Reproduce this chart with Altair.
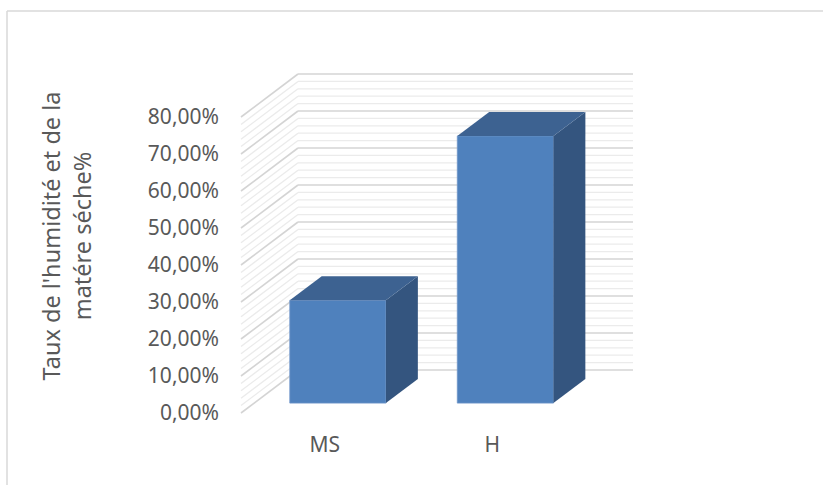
import altair as alt
import pandas as pd

# --- data -------------------------------------------------------------
categories = ["MS", "H"]
taux = [27.8, 72.2]  # percent

tick_values = [0, 10, 20, 30, 40, 50, 60, 70, 80]
tick_labels = ["0,00%", "10,00%", "20,00%", "30,00%", "40,00%",
               "50,00%", "60,00%", "70,00%", "80,00%"]
minor_step = 2

axis_title = "Taux de l'humidité et de la\nmatére séche%"

# --- oblique 3D projection settings (x in category slots, y in percent) ---
W, H = 816, 474            # plot area in px
SLOT_PX, PCT_PX = 167.5, 3.7
ORIGIN_X, ORIGIN_Y = 234, 402   # px of (slot 0, 0%) on the front plane
DEPTH_X = 57 / SLOT_PX      # full-depth shift in slot units
DEPTH_Y = 43 / PCT_PX       # full-depth shift in percent units
BAR_D0, BAR_D1 = 0.23, 0.79 # bar depth span (fraction of the box depth)
HALF_W = 0.287              # bar half-width in slot units

x_dom = [-ORIGIN_X / SLOT_PX, (W - ORIGIN_X) / SLOT_PX]
y_dom = [(ORIGIN_Y - H) / PCT_PX, ORIGIN_Y / PCT_PX]
xs = alt.Scale(domain=x_dom, nice=False, zero=False)
ys = alt.Scale(domain=y_dom, nice=False, zero=False)

FONT = "Noto Sans"
GREY_TXT = "#595959"
n_cat = len(categories)


def X(field):
    return alt.X(field, type="quantitative", scale=xs, axis=None)


def Y(field):
    return alt.Y(field, type="quantitative", scale=ys, axis=None)


# --- gridlines: back wall + left side wall ------------------------------
grid_rows = []
for v in range(0, tick_values[-1] + 1, minor_step):
    grid_rows.append({
        "v": v,
        "major": int(v % 10 == 0),
        "y_back": v + DEPTH_Y,
        "x_front": 0.0,
        "x_back": DEPTH_X,
        "x_back_end": n_cat + DEPTH_X,
    })
grid = pd.DataFrame(grid_rows)


def grid_layers(major):
    data = grid[grid["major"] == major]
    color = "#d4d4d4" if major else "#ebebeb"
    width = 1.6 if major else 1.3
    back = alt.Chart(data).mark_rule(color=color, strokeWidth=width).encode(
        x=X("x_back"), x2="x_back_end:Q", y=Y("y_back"),
    )
    side = alt.Chart(data).mark_rule(color=color, strokeWidth=width).encode(
        x=X("x_front"), x2="x_back:Q", y=Y("v"), y2="y_back:Q",
    )
    return [back, side]


# --- bars: front, right side and top faces --------------------------------
front_rows, side_rows, top_rows = [], [], []
for i, (cat, val) in enumerate(zip(categories, taux)):
    c = i + 0.5
    front_rows.append({
        "cat": cat,
        "x": c - HALF_W + BAR_D0 * DEPTH_X,
        "x2": c + HALF_W + BAR_D0 * DEPTH_X,
        "y": BAR_D0 * DEPTH_Y,
        "y2": val + BAR_D0 * DEPTH_Y,
    })
    for d in (BAR_D0, BAR_D1):
        side_rows.append({
            "cat": cat,
            "x": c + HALF_W + d * DEPTH_X,
            "y": val + d * DEPTH_Y,
            "y2": d * DEPTH_Y,
        })
        top_rows.append({
            "cat": cat,
            "y": val + d * DEPTH_Y,
            "x": c - HALF_W + d * DEPTH_X,
            "x2": c + HALF_W + d * DEPTH_X,
        })

front = alt.Chart(pd.DataFrame(front_rows)).mark_rect(
    color="#4F81BD", stroke="#6f95c9", strokeWidth=0.8
).encode(x=X("x"), x2="x2:Q", y=Y("y"), y2="y2:Q")

side = alt.Chart(pd.DataFrame(side_rows)).mark_area(
    color="#34557F", orient="vertical"
).encode(x=X("x"), y=Y("y"), y2="y2:Q", detail="cat:N")

top = alt.Chart(pd.DataFrame(top_rows)).mark_area(
    color="#3D6291", orient="horizontal"
).encode(y=Y("y"), x=X("x"), x2="x2:Q", detail="cat:N")

# --- labels -------------------------------------------------------------
ticks_df = pd.DataFrame({"v": tick_values, "label": tick_labels,
                         "x0": [0.0] * len(tick_values)})
tick_text = alt.Chart(ticks_df).mark_text(
    align="right", baseline="middle", dx=-22, dy=1,
    font=FONT, fontSize=21, color=GREY_TXT,
).encode(x=X("x0"), y=Y("v"), text="label:N")

cat_df = pd.DataFrame({"cat": categories,
                       "pos": [i + 0.5 for i in range(n_cat)],
                       "base": [0.0] * n_cat})
cat_text = alt.Chart(cat_df).mark_text(
    align="center", baseline="middle", dy=33,
    font=FONT, fontSize=21, color=GREY_TXT,
).encode(x=X("pos"), y=Y("base"), text="cat:N")

title = alt.Chart(pd.DataFrame({"t": [axis_title]})).mark_text(
    angle=270, align="center", baseline="alphabetic",
    lineBreak="\n", lineHeight=31,
    font=FONT, fontSize=23.5, color=GREY_TXT,
).encode(x=alt.value(53), y=alt.value(225), text="t:N")

# --- chart frame (top and left edges) -----------------------------------
frame_df = pd.DataFrame({"a": [0]})
frame_top = alt.Chart(frame_df).mark_rule(
    color="#d9d9d9", strokeWidth=1.5
).encode(x=alt.value(0), x2=alt.value(W), y=alt.value(0))
frame_left = alt.Chart(frame_df).mark_rule(
    color="#d9d9d9", strokeWidth=1.5
).encode(x=alt.value(0), y=alt.value(0), y2=alt.value(H))

layers = grid_layers(0) + grid_layers(1) + [
    front, side, top, tick_text, cat_text, title, frame_top, frame_left
]

chart = alt.layer(*layers).properties(
    width=W, height=H,
    autosize=alt.AutoSizeParams(type="none"),
    padding={"left": 7, "top": 11, "right": 0, "bottom": 0},
    background="white",
).configure_view(stroke=None)

chart.save("out.html", embed_options={"renderer": "svg", "actions": False})
